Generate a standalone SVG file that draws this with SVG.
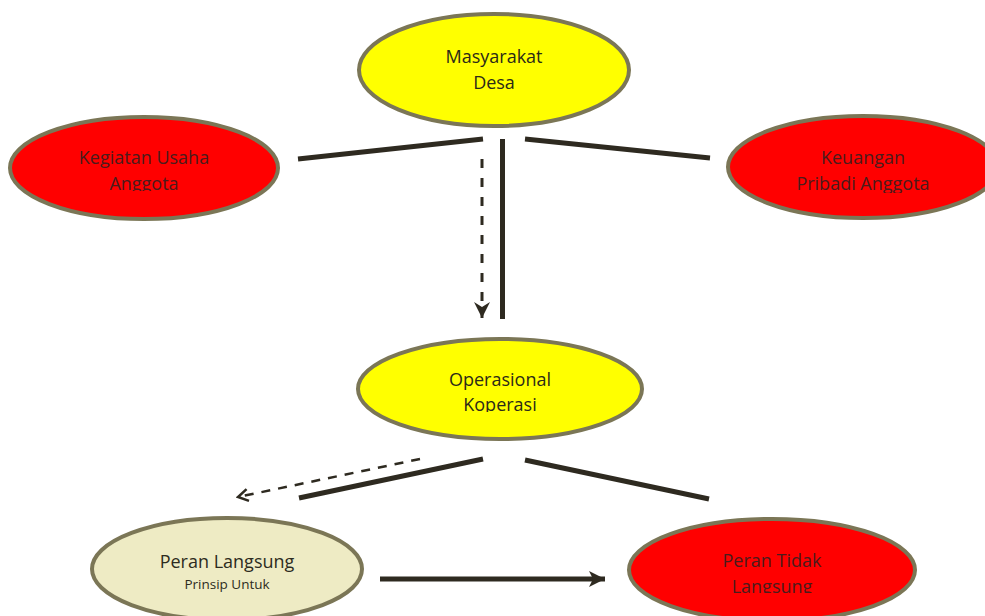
<svg xmlns="http://www.w3.org/2000/svg" width="985" height="616" viewBox="0 0 985 616">
<style>
.node ellipse{stroke:#7b7656;stroke-width:4}
.yellow{fill:#ffff00}
.red{fill:#ff0000}
.beige{fill:#eeebc4}
text{font-family:"Open Sans","Liberation Sans",sans-serif;font-size:18px;text-anchor:middle}
.ty{fill:#2b2a18}
.tr{fill:#4a1c1c}
.tb{fill:#2d2b20}
.small{font-size:13.5px}
.ln{stroke:#2e2a20;stroke-width:5;fill:none}
.dash{stroke:#2e2a20;stroke-width:3;fill:none;stroke-dasharray:9 10}
</style>
<defs>
<marker id="headDown" viewBox="0 0 16 16" refX="16" refY="8" markerWidth="16" markerHeight="16" markerUnits="userSpaceOnUse" orient="auto">
<path d="M0,0 L16,8 L0,16 L5,8 Z" fill="#2e2a20"/>
</marker>
<marker id="headOpen" viewBox="0 0 14 14" refX="12" refY="7" markerWidth="14" markerHeight="14" markerUnits="userSpaceOnUse" orient="auto">
<path d="M2,1 L12,7 L2,13" fill="none" stroke="#2e2a20" stroke-width="2.5"/>
</marker>
<marker id="headSolid" viewBox="0 0 18 18" refX="16" refY="9" markerWidth="18" markerHeight="18" markerUnits="userSpaceOnUse" orient="auto">
<path d="M0,1 L16,9 L0,17 L4,9 Z" fill="#2e2a20"/>
</marker>
<clipPath id="c1"><rect x="0" y="0" width="300" height="191"/></clipPath>
<clipPath id="c2"><rect x="700" y="0" width="285" height="193"/></clipPath>
<clipPath id="c3"><rect x="340" y="330" width="320" height="82"/></clipPath>
<clipPath id="c4"><rect x="620" y="500" width="365" height="93"/></clipPath>
</defs>

<g id="masyarakat-desa" class="node">
<ellipse class="yellow" cx="494" cy="70" rx="135" ry="56"/>
<text class="ty" x="494" y="63">Masyarakat</text>
<text class="ty" x="494" y="89">Desa</text>
</g>

<g id="kegiatan-usaha" class="node">
<ellipse class="red" cx="144" cy="168" rx="134" ry="51"/>
<g clip-path="url(#c1)">
<text class="tr" x="144" y="164">Kegiatan Usaha</text>
<text class="tr" x="144" y="190">Anggota</text>
</g>
</g>

<g id="keuangan-pribadi" class="node">
<ellipse class="red" cx="863" cy="167" rx="135" ry="51"/>
<g clip-path="url(#c2)">
<text class="tr" x="863" y="164">Keuangan</text>
<text class="tr" x="863" y="190">Pribadi Anggota</text>
</g>
</g>

<g id="operasional-koperasi" class="node">
<ellipse class="yellow" cx="500" cy="389" rx="142" ry="50"/>
<g clip-path="url(#c3)">
<text class="ty" x="500" y="386">Operasional</text>
<text class="ty" x="500" y="411">Koperasi</text>
</g>
</g>

<g id="peran-langsung" class="node">
<ellipse class="beige" cx="227" cy="569" rx="135" ry="51"/>
<text class="tb" x="227" y="568">Peran Langsung</text>
<text class="tb small" x="227" y="589">Prinsip Untuk</text>
</g>

<g id="peran-tidak-langsung" class="node">
<ellipse class="red" cx="772" cy="570" rx="143" ry="51"/>
<g clip-path="url(#c4)">
<text class="tr" x="772" y="567">Peran Tidak</text>
<text class="tr" x="772" y="593">Langsung</text>
</g>
</g>

<g id="connectors">
<line class="ln" x1="298" y1="159" x2="483" y2="139"/>
<line class="ln" x1="525" y1="139" x2="710" y2="158"/>
<line class="ln" x1="502.5" y1="139" x2="502.5" y2="319"/>
<line class="dash" x1="482" y1="159" x2="482" y2="318" marker-end="url(#headDown)"/>
<line class="ln" x1="299" y1="498" x2="483" y2="459"/>
<line class="ln" x1="525" y1="460" x2="709" y2="499"/>
<line class="dash" style="stroke-width:2.5;stroke-dasharray:9 8" x1="420" y1="459" x2="238" y2="497" marker-end="url(#headOpen)"/>
<line class="ln" x1="380" y1="579" x2="605" y2="579" marker-end="url(#headSolid)"/>
</g>
</svg>
